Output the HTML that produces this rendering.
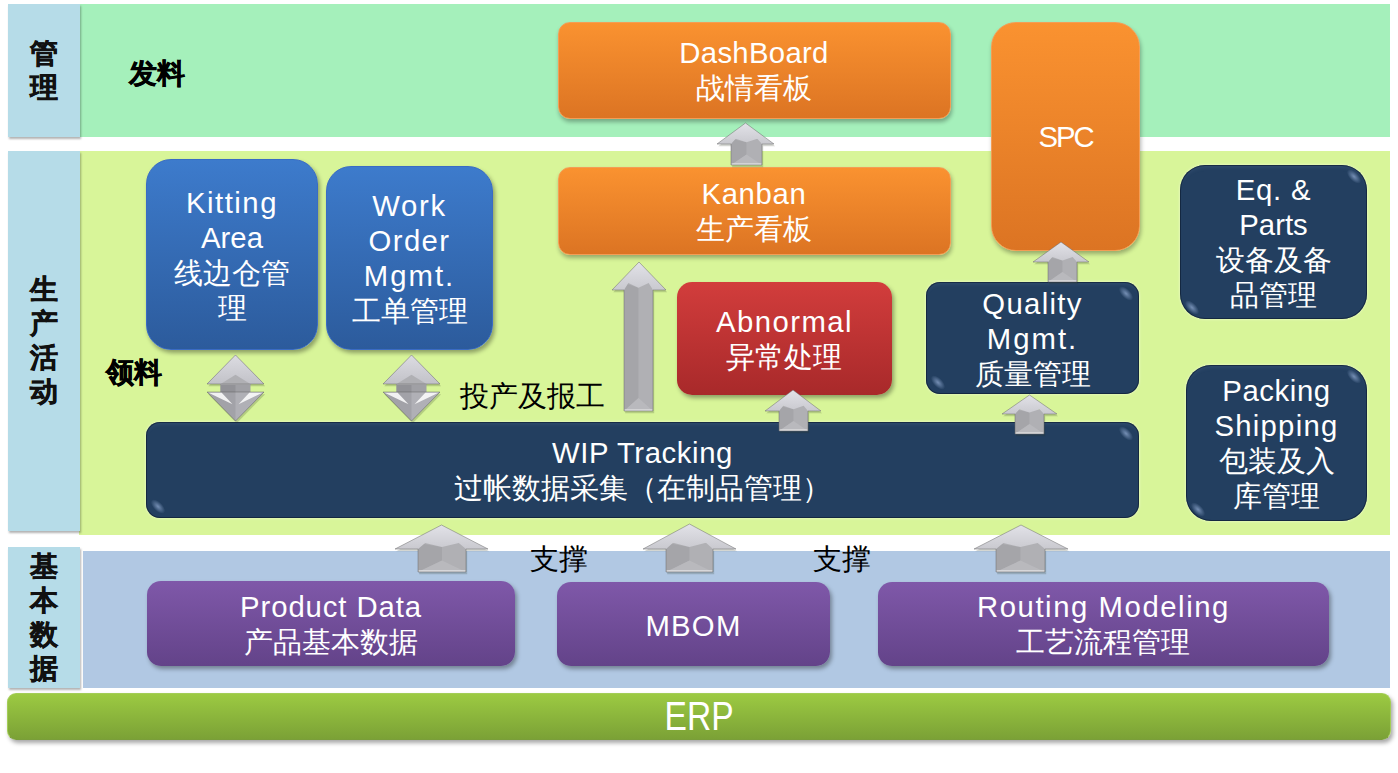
<!DOCTYPE html>
<html><head><meta charset="utf-8">
<style>
*{margin:0;padding:0;box-sizing:border-box}
html,body{width:1398px;height:773px;overflow:hidden;background:#fff}
body{position:relative;font-family:"Liberation Sans",sans-serif;text-spacing-trim:space-all}
.a{position:absolute}
.lab{position:absolute;left:8px;width:71.5px;background:#b6dce8;box-shadow:1px 2px 2px rgba(0,0,0,.3);
 display:flex;align-items:center;justify-content:center;font-weight:bold;-webkit-text-stroke:.5px #111;font-size:28px;line-height:34px;color:#111;text-align:center}
.band{position:absolute}
.box{position:absolute;display:flex;align-items:center;justify-content:center;text-align:center;color:#fff;font-size:29.3px;line-height:35px;
 box-shadow:2px 3px 4px rgba(0,0,0,.35)}
.or{background:linear-gradient(#fa9230,#dc7423);border:1.5px solid #f49d55;box-shadow:1px 3px 4px rgba(0,0,0,.3)}
.bl{background:linear-gradient(#3d7bcc,#2c5b9c);border:1px solid #3a6bc4}
.rd{background:linear-gradient(#d23d3c,#a8292a)}
.nv{background:#233f60;box-shadow:inset 0 0 0 1px rgba(10,25,45,.6),inset 0 5px 4px -3px rgba(120,150,190,.18),0 0 3px rgba(255,255,240,.7)}
.nv::before,.nv::after{content:"";position:absolute;width:18px;height:9px;border-radius:50%;background:radial-gradient(closest-side,rgba(160,185,225,.65),rgba(160,185,225,0));transform:rotate(45deg)}
.nv::before{right:4px;top:7px}
.nv::after{left:3px;bottom:7px}
.pu{background:linear-gradient(#7f58a9,#634389)}
.arr{position:absolute;overflow:visible}
.t{position:absolute;font-size:29.3px;line-height:35px;color:#000;white-space:nowrap}
</style></head><body>
<!-- bands -->
<div class="band" style="left:79px;top:4px;width:1311px;height:133px;background:#a5f0bb"></div>
<div class="band" style="left:79px;top:151px;width:1311px;height:384px;background:#d8f599"></div>
<div class="band" style="left:83px;top:551px;width:1307px;height:137px;background:#b1c8e3"></div>
<div class="lab" style="top:4px;height:133px">管<br>理</div>
<div class="lab" style="top:151px;height:380px">生<br>产<br>活<br>动</div>
<div class="lab" style="top:547px;height:141px">基<br>本<br>数<br>据</div>
<!-- ERP -->
<div class="box" style="left:7px;top:693px;width:1384px;height:47px;border-radius:9px;background:linear-gradient(#9cca42,#7ba136);border:1px solid #a3cd57;border-bottom-color:#7a9e3a;font-size:40px;line-height:40px"><span style="display:inline-block;transform:scaleX(.84);position:relative;top:-0.5px">ERP</span></div>

<div class="t" style="left:129px;top:56px;font-weight:bold;font-size:28px;-webkit-text-stroke:.5px #000">发料</div>
<div class="t" style="left:106px;top:355px;font-weight:bold;font-size:28px;-webkit-text-stroke:.5px #000">领料</div>
<div class="t" style="left:460px;top:378px">投产及报工</div>
<div class="t" style="left:530px;top:540.5px">支撑</div>
<div class="t" style="left:813px;top:540.5px">支撑</div>

<div class="box or" style="left:557.5px;top:22px;width:393px;height:96.5px;border-radius:12px"><div><span style="letter-spacing:0.3px">DashBoard</span><br>战情看板</div></div>
<div class="box or" style="left:557.5px;top:167px;width:393px;height:88px;border-radius:12px"><div><span style="letter-spacing:0.7px">Kanban</span><br>生产看板</div></div>
<div class="box or" style="left:991px;top:22px;width:149px;height:229px;border-radius:25px"><div><span style="letter-spacing:-2px">SPC</span></div></div>
<div class="box bl" style="left:146px;top:159px;width:172px;height:191px;border-radius:25px"><div><span style="letter-spacing:1.5px">Kitting</span><br>Area<br>线边仓管<br>理</div></div>
<div class="box bl" style="left:326px;top:166px;width:167px;height:184px;border-radius:25px"><div><span style="letter-spacing:1.7px">Work</span><br><span style="letter-spacing:1.4px">Order</span><br><span style="letter-spacing:2px">Mgmt.</span><br>工单管理</div></div>
<div class="box rd" style="left:677px;top:282px;width:215px;height:113px;border-radius:15px"><div><span style="letter-spacing:1.45px">Abnormal</span><br>异常处理</div></div>
<div class="box nv" style="left:926px;top:282px;width:213px;height:112px;border-radius:14px"><div><span style="letter-spacing:1.3px">Quality</span><br><span style="letter-spacing:2px">Mgmt.</span><br>质量管理</div></div>
<div class="box nv" style="left:1180px;top:165px;width:187px;height:154px;border-radius:25px"><div><span style="letter-spacing:0.8px">Eq. &amp;</span><br>Parts<br>设备及备<br>品管理</div></div>
<div class="box nv" style="left:1186px;top:365px;width:181px;height:156px;border-radius:25px"><div><span style="letter-spacing:0.6px">Packing</span><br><span style="letter-spacing:1.25px">Shipping</span><br>包装及入<br>库管理</div></div>
<div class="box nv" style="left:146px;top:422px;width:993px;height:96px;border-radius:14px"><div><span style="letter-spacing:0.6px">WIP Tracking</span><br>过帐数据采集（在制品管理）</div></div>
<div class="box pu" style="left:147px;top:581px;width:368px;height:85px;border-radius:14px"><div><span style="letter-spacing:0.9px">Product Data</span><br>产品基本数据</div></div>
<div class="box pu" style="left:557px;top:582px;width:273px;height:84px;border-radius:14px;padding-top:3px"><div><span style="letter-spacing:1.25px">MBOM</span></div></div>
<div class="box pu" style="left:878px;top:582px;width:451px;height:84px;border-radius:14px"><div><span style="letter-spacing:1.56px">Routing Modeling</span><br>工艺流程管理</div></div>
<svg class="arr" style="left:714px;top:120px;width:65px;height:51px" viewBox="-3 -3 65 51">
<defs><linearGradient id="hg1" x1="0" y1="0" x2="0" y2="1"><stop offset="0" stop-color="#e2e2e8"/><stop offset="1" stop-color="#c9c9cf"/></linearGradient></defs>
<polygon points="28.5,0 57,21 45,21 45,42 14,42 14,21 0,21" transform="translate(1.2,2.2)" fill="rgba(40,50,30,.2)"/>
<polygon points="14,15.75 45,15.75 45,42 14,42" fill="#b0b0b4"/>
<polygon points="14,15.75 29.5,19.32 29.5,31.5 14,42" fill="#a5a5a9"/>
<polygon points="14,42 29.5,31.5 45,42" fill="#b9b9bd"/>
<polygon points="28.5,0 57,21 45,21 40.35,15.75 29.5,19.32 18.65,15.75 14,21 0,21" fill="url(#hg1)"/>
<polyline points="14.5,41.1 44.5,41.1" stroke="rgba(230,230,232,.9)" stroke-width="1.5"/>
<polygon points="28.5,0 57,21 45,21 45,42 14,42 14,21 0,21" fill="none" stroke="rgba(105,105,105,.55)" stroke-width=".9"/>
</svg><svg class="arr" style="left:609px;top:259px;width:62px;height:158px" viewBox="-3 -3 62 158">
<defs><linearGradient id="hg2" x1="0" y1="0" x2="0" y2="1"><stop offset="0" stop-color="#e2e2e8"/><stop offset="1" stop-color="#c9c9cf"/></linearGradient></defs>
<polygon points="27.0,0 54,28 41,28 41,149 12,149 12,28 0,28" transform="translate(1.2,2.2)" fill="rgba(40,50,30,.2)"/>
<polygon points="12,21.0 41,21.0 41,149 12,149" fill="#b0b0b4"/>
<polygon points="12,21.0 26.5,25.759999999999998 26.5,135.95 12,149" fill="#a5a5a9"/>
<polygon points="12,149 26.5,135.95 41,149" fill="#b9b9bd"/>
<polygon points="27.0,0 54,28 41,28 36.65,21.0 26.5,25.759999999999998 16.35,21.0 12,28 0,28" fill="url(#hg2)"/>
<polyline points="12.5,148.1 40.5,148.1" stroke="rgba(230,230,232,.9)" stroke-width="1.5"/>
<polygon points="27.0,0 54,28 41,28 41,149 12,149 12,28 0,28" fill="none" stroke="rgba(105,105,105,.55)" stroke-width=".9"/>
</svg><svg class="arr" style="left:762px;top:387px;width:64px;height:50px" viewBox="-3 -3 64 50">
<defs><linearGradient id="hg3" x1="0" y1="0" x2="0" y2="1"><stop offset="0" stop-color="#e2e2e8"/><stop offset="1" stop-color="#c9c9cf"/></linearGradient></defs>
<polygon points="28.0,0 56,21 43,21 43,41 14,41 14,21 0,21" transform="translate(1.2,2.2)" fill="rgba(40,50,30,.2)"/>
<polygon points="14,15.75 43,15.75 43,41 14,41" fill="#b0b0b4"/>
<polygon points="14,15.75 28.5,19.32 28.5,31.0 14,41" fill="#a5a5a9"/>
<polygon points="14,41 28.5,31.0 43,41" fill="#b9b9bd"/>
<polygon points="28.0,0 56,21 43,21 38.65,15.75 28.5,19.32 18.35,15.75 14,21 0,21" fill="url(#hg3)"/>
<polyline points="14.5,40.1 42.5,40.1" stroke="rgba(230,230,232,.9)" stroke-width="1.5"/>
<polygon points="28.0,0 56,21 43,21 43,41 14,41 14,21 0,21" fill="none" stroke="rgba(105,105,105,.55)" stroke-width=".9"/>
</svg><svg class="arr" style="left:1030px;top:239px;width:64px;height:49px" viewBox="-3 -3 64 49">
<defs><linearGradient id="hg4" x1="0" y1="0" x2="0" y2="1"><stop offset="0" stop-color="#e2e2e8"/><stop offset="1" stop-color="#c9c9cf"/></linearGradient></defs>
<polygon points="28.0,0 56,20 44,20 44,40 15,40 15,20 0,20" transform="translate(1.2,2.2)" fill="rgba(40,50,30,.2)"/>
<polygon points="15,15.0 44,15.0 44,40 15,40" fill="#b0b0b4"/>
<polygon points="15,15.0 29.5,18.4 29.5,30.0 15,40" fill="#a5a5a9"/>
<polygon points="15,40 29.5,30.0 44,40" fill="#b9b9bd"/>
<polygon points="28.0,0 56,20 44,20 39.65,15.0 29.5,18.4 19.35,15.0 15,20 0,20" fill="url(#hg4)"/>
<polyline points="15.5,39.1 43.5,39.1" stroke="rgba(230,230,232,.9)" stroke-width="1.5"/>
<polygon points="28.0,0 56,20 44,20 44,40 15,40 15,20 0,20" fill="none" stroke="rgba(105,105,105,.55)" stroke-width=".9"/>
</svg><svg class="arr" style="left:999px;top:392px;width:63px;height:48px" viewBox="-3 -3 63 48">
<defs><linearGradient id="hg5" x1="0" y1="0" x2="0" y2="1"><stop offset="0" stop-color="#e2e2e8"/><stop offset="1" stop-color="#c9c9cf"/></linearGradient></defs>
<polygon points="27.5,0 55,19 42,19 42,39 13,39 13,19 0,19" transform="translate(1.2,2.2)" fill="rgba(40,50,30,.2)"/>
<polygon points="13,14.25 42,14.25 42,39 13,39" fill="#b0b0b4"/>
<polygon points="13,14.25 27.5,17.48 27.5,29.0 13,39" fill="#a5a5a9"/>
<polygon points="13,39 27.5,29.0 42,39" fill="#b9b9bd"/>
<polygon points="27.5,0 55,19 42,19 37.65,14.25 27.5,17.48 17.35,14.25 13,19 0,19" fill="url(#hg5)"/>
<polyline points="13.5,38.1 41.5,38.1" stroke="rgba(230,230,232,.9)" stroke-width="1.5"/>
<polygon points="27.5,0 55,19 42,19 42,39 13,39 13,19 0,19" fill="none" stroke="rgba(105,105,105,.55)" stroke-width=".9"/>
</svg><svg class="arr" style="left:392px;top:522px;width:101px;height:56px" viewBox="-3 -3 101 56">
<defs><linearGradient id="hg6" x1="0" y1="0" x2="0" y2="1"><stop offset="0" stop-color="#e2e2e8"/><stop offset="1" stop-color="#c9c9cf"/></linearGradient></defs>
<polygon points="46.5,0 93,24 71,24 71,47 23,47 23,24 0,24" transform="translate(1.2,2.2)" fill="rgba(40,50,30,.2)"/>
<polygon points="23,18.0 71,18.0 71,47 23,47" fill="#b0b0b4"/>
<polygon points="23,18.0 47.0,22.08 47.0,35.5 23,47" fill="#a5a5a9"/>
<polygon points="23,47 47.0,35.5 71,47" fill="#b9b9bd"/>
<polygon points="46.5,0 93,24 71,24 63.8,18.0 47.0,22.08 30.2,18.0 23,24 0,24" fill="url(#hg6)"/>
<polyline points="23.5,46.1 70.5,46.1" stroke="rgba(230,230,232,.9)" stroke-width="1.5"/>
<polygon points="46.5,0 93,24 71,24 71,47 23,47 23,24 0,24" fill="none" stroke="rgba(105,105,105,.55)" stroke-width=".9"/>
</svg><svg class="arr" style="left:640px;top:521px;width:101px;height:57px" viewBox="-3 -3 101 57">
<defs><linearGradient id="hg7" x1="0" y1="0" x2="0" y2="1"><stop offset="0" stop-color="#e2e2e8"/><stop offset="1" stop-color="#c9c9cf"/></linearGradient></defs>
<polygon points="46.5,0 93,25 70,25 70,48 23,48 23,25 0,25" transform="translate(1.2,2.2)" fill="rgba(40,50,30,.2)"/>
<polygon points="23,18.75 70,18.75 70,48 23,48" fill="#b0b0b4"/>
<polygon points="23,18.75 46.5,23.0 46.5,36.5 23,48" fill="#a5a5a9"/>
<polygon points="23,48 46.5,36.5 70,48" fill="#b9b9bd"/>
<polygon points="46.5,0 93,25 70,25 62.95,18.75 46.5,23.0 30.05,18.75 23,25 0,25" fill="url(#hg7)"/>
<polyline points="23.5,47.1 69.5,47.1" stroke="rgba(230,230,232,.9)" stroke-width="1.5"/>
<polygon points="46.5,0 93,25 70,25 70,48 23,48 23,25 0,25" fill="none" stroke="rgba(105,105,105,.55)" stroke-width=".9"/>
</svg><svg class="arr" style="left:971px;top:522px;width:102px;height:56px" viewBox="-3 -3 102 56">
<defs><linearGradient id="hg8" x1="0" y1="0" x2="0" y2="1"><stop offset="0" stop-color="#e2e2e8"/><stop offset="1" stop-color="#c9c9cf"/></linearGradient></defs>
<polygon points="47.0,0 94,24 71,24 71,47 22,47 22,24 0,24" transform="translate(1.2,2.2)" fill="rgba(40,50,30,.2)"/>
<polygon points="22,18.0 71,18.0 71,47 22,47" fill="#b0b0b4"/>
<polygon points="22,18.0 46.5,22.08 46.5,35.5 22,47" fill="#a5a5a9"/>
<polygon points="22,47 46.5,35.5 71,47" fill="#b9b9bd"/>
<polygon points="47.0,0 94,24 71,24 63.65,18.0 46.5,22.08 29.35,18.0 22,24 0,24" fill="url(#hg8)"/>
<polyline points="22.5,46.1 70.5,46.1" stroke="rgba(230,230,232,.9)" stroke-width="1.5"/>
<polygon points="47.0,0 94,24 71,24 71,47 22,47 22,24 0,24" fill="none" stroke="rgba(105,105,105,.55)" stroke-width=".9"/>
</svg><svg class="arr" style="left:204.0px;top:352px;width:65px;height:75px" viewBox="-3 -3 65 75">
<defs><linearGradient id="dg9" x1="0" y1="0" x2="0" y2="1"><stop offset="0" stop-color="#dcdce2"/><stop offset="1" stop-color="#c2c2c8"/></linearGradient></defs>
<polygon points="28.5,0 57,29 43.5,29 13.5,29 0,29" transform="translate(1.2,2.2)" fill="rgba(40,50,30,.2)"/>
<polygon points="0,37 57,37 28.5,66" transform="translate(1.2,2.2)" fill="rgba(40,50,30,.2)"/>
<polygon points="13.5,20.299999999999997 43.5,20.299999999999997 43.5,41 13.5,41" fill="#a0a0a5"/>
<polygon points="13.5,20.299999999999997 28.5,20.299999999999997 28.5,41 13.5,41" fill="#929297"/>
<polygon points="28.5,0 57,29 43.5,29 13.5,29 0,29" fill="#c8c8ce"/>
<polygon points="28.5,0 57,29 43.5,29 28.5,19.720000000000002 13.5,29 0,29" fill="url(#dg9)"/>
<polygon points="13.5,29 28.5,19.720000000000002 43.5,29 43.5,30 13.5,30" fill="#b0b0b4"/>
<polygon points="0,37 57,37 28.5,66" fill="#a2a2a8"/>
<polygon points="28.5,37 57,37 28.5,66" fill="#b0b0b6"/>
<polygon points="1,37.5 14.5,37.5 25.5,49.18" fill="rgba(255,255,255,.85)"/>
<polygon points="56,37.5 42.5,37.5 31.5,49.18" fill="rgba(255,255,255,.85)"/>
<polygon points="28.5,0 57,29 43.5,29 13.5,29 0,29" fill="none" stroke="rgba(90,90,90,.55)" stroke-width=".8"/>
<polygon points="0,37 57,37 28.5,66" fill="none" stroke="rgba(90,90,90,.55)" stroke-width=".8"/>
</svg><svg class="arr" style="left:379.5px;top:352px;width:65px;height:75px" viewBox="-3 -3 65 75">
<defs><linearGradient id="dg10" x1="0" y1="0" x2="0" y2="1"><stop offset="0" stop-color="#dcdce2"/><stop offset="1" stop-color="#c2c2c8"/></linearGradient></defs>
<polygon points="28.5,0 57,29 43.5,29 13.5,29 0,29" transform="translate(1.2,2.2)" fill="rgba(40,50,30,.2)"/>
<polygon points="0,37 57,37 28.5,66" transform="translate(1.2,2.2)" fill="rgba(40,50,30,.2)"/>
<polygon points="13.5,20.299999999999997 43.5,20.299999999999997 43.5,41 13.5,41" fill="#a0a0a5"/>
<polygon points="13.5,20.299999999999997 28.5,20.299999999999997 28.5,41 13.5,41" fill="#929297"/>
<polygon points="28.5,0 57,29 43.5,29 13.5,29 0,29" fill="#c8c8ce"/>
<polygon points="28.5,0 57,29 43.5,29 28.5,19.720000000000002 13.5,29 0,29" fill="url(#dg10)"/>
<polygon points="13.5,29 28.5,19.720000000000002 43.5,29 43.5,30 13.5,30" fill="#b0b0b4"/>
<polygon points="0,37 57,37 28.5,66" fill="#a2a2a8"/>
<polygon points="28.5,37 57,37 28.5,66" fill="#b0b0b6"/>
<polygon points="1,37.5 14.5,37.5 25.5,49.18" fill="rgba(255,255,255,.85)"/>
<polygon points="56,37.5 42.5,37.5 31.5,49.18" fill="rgba(255,255,255,.85)"/>
<polygon points="28.5,0 57,29 43.5,29 13.5,29 0,29" fill="none" stroke="rgba(90,90,90,.55)" stroke-width=".8"/>
<polygon points="0,37 57,37 28.5,66" fill="none" stroke="rgba(90,90,90,.55)" stroke-width=".8"/>
</svg>
</body></html>
